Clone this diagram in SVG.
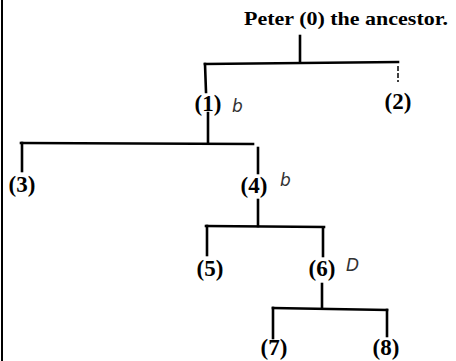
<svg xmlns="http://www.w3.org/2000/svg" width="456" height="361" viewBox="0 0 456 361">
<style>
.ln{stroke:#000;stroke-width:2.6;fill:none;stroke-linecap:square}
.lb{font-family:"Liberation Serif","DejaVu Serif",serif;font-weight:bold;font-size:23px;fill:#000;text-anchor:middle}
.hw{font-family:"DejaVu Sans","Liberation Sans",sans-serif;font-style:italic;font-size:17px;fill:#333}
</style>
<rect width="456" height="361" fill="#fff"/>
<line x1="2" y1="0" x2="2" y2="361" stroke="#000" stroke-width="2"/>
<g id="connectors">
<path class="ln" d="M300,36 L300,62"/>
<path class="ln" d="M205,64 L398,62"/>
<path class="ln" d="M205,64 L206,92 M208,113 L208,143"/>
<path d="M398,66 L398,82" stroke="#000" stroke-width="1.5" stroke-dasharray="5,2"/>
<path class="ln" d="M21,143 L253,144"/>
<path class="ln" d="M22,143 L22,171"/>
<path class="ln" d="M258,148 L258,173"/>
<path class="ln" d="M258,200 L258,226"/>
<path class="ln" d="M206,226 L324,227"/>
<path class="ln" d="M207,226 L207,255"/>
<path class="ln" d="M323,228 L323,256"/>
<path class="ln" d="M322,284 L322,307"/>
<path class="ln" d="M273,308 L387,310"/>
<path class="ln" d="M273,308 L273,338"/>
<path class="ln" d="M387,310 L387,336"/>
</g>
<g id="n0"><text x="244" y="25" font-family="'Liberation Serif','DejaVu Serif',serif" font-weight="bold" font-size="19" textLength="204" lengthAdjust="spacingAndGlyphs">Peter (0) the ancestor.</text></g>
<g id="n1"><text class="lb" x="208" y="111">(1)</text><text class="hw" x="232" y="112">b</text></g>
<g id="n2"><text class="lb" x="398" y="109">(2)</text></g>
<g id="n3"><text class="lb" x="22" y="192">(3)</text></g>
<g id="n4"><text class="lb" x="254" y="193">(4)</text><text class="hw" x="280" y="186" font-size="13">b</text></g>
<g id="n5"><text class="lb" x="210" y="276">(5)</text></g>
<g id="n6"><text class="lb" x="322" y="276">(6)</text><text class="hw" x="346" y="271" font-size="14">D</text></g>
<g id="n7"><text class="lb" x="274" y="355">(7)</text></g>
<g id="n8"><text class="lb" x="386" y="355">(8)</text></g>
</svg>
